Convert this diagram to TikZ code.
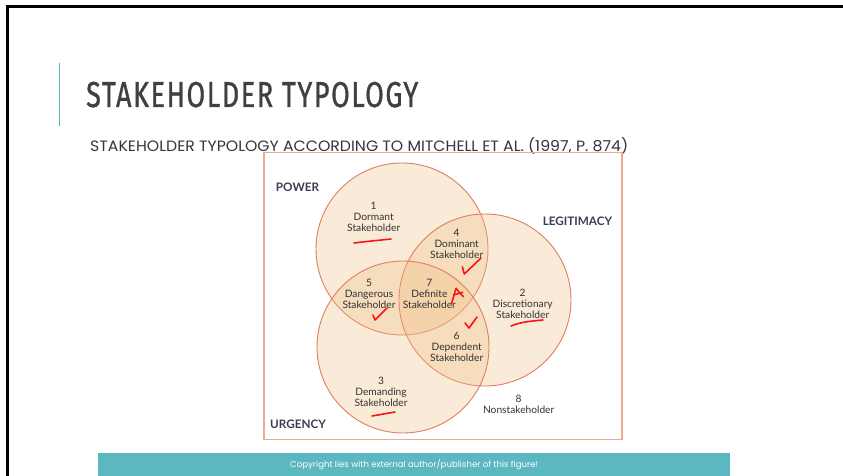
\documentclass[tikz,border=0pt]{standalone}
\usepackage{fontspec}
\usepackage{graphicx}
\setmainfont{Lato}
\newfontfamily\titlefont[LetterSpace=6, FakeBold=1.2]{Fira Sans}
\newfontfamily\subfont{Poppins}
\newfontfamily\labelfont{Lato}

\definecolor{slideteal}{RGB}{91,183,192}
\definecolor{titlegray}{RGB}{64,64,64}
\definecolor{subgray}{RGB}{52,52,66}
\definecolor{headnavy}{RGB}{60,60,88}
\definecolor{labelgray}{RGB}{50,50,50}
\definecolor{vennfill}{RGB}{240,190,130}
\definecolor{vennline}{RGB}{226,124,100}
\definecolor{boxline}{RGB}{240,170,148}
\definecolor{penred}{RGB}{250,20,20}

\tikzset{
  venn/.style={circle, minimum size=172pt, inner sep=0pt,
    fill=vennfill, fill opacity=0.3, draw=vennline, draw opacity=1, line width=0.9pt},
  typelabel/.style={align=center, inner sep=0pt, text=labelgray,
    font=\labelfont\fontsize{10.2}{11.3}\selectfont},
  setname/.style={inner sep=0pt, text=headnavy,
    font=\labelfont\bfseries\fontsize{11.7}{12}\selectfont},
  pen/.style={draw=penred, line width=1.6pt, line cap=round, line join=round},
}

\begin{document}
\begin{tikzpicture}[x=1pt,y=-1pt]
\useasboundingbox (0,0) rectangle (843,476);
\fill[white] (0,0) rectangle (843,476);

% slide frame (top and left edges)
\draw[black, line width=3pt] (7.5,476) -- (7.5,7) -- (843,7);

% accent bar beside the title
\draw[slideteal, line width=1.5pt] (59.5,63) -- (59.5,126);

% title and subtitle
\node[anchor=base west, inner sep=0pt, text=titlegray] (title) at (86,107)
  {\resizebox{332pt}{\height}{\titlefont\fontsize{36}{36}\selectfont STAKEHOLDER TYPOLOGY}};
\node[anchor=base west, inner sep=0pt, text=subgray] (subtitle) at (90,152)
  {\resizebox{538pt}{\height}{\subfont\fontsize{15}{15}\selectfont STAKEHOLDER TYPOLOGY ACCORDING TO MITCHELL ET AL. (1997, P. 874)}};

% figure frame
\node[draw=boxline, line width=1.4pt, inner sep=0pt, minimum width=358pt,
      minimum height=287pt] (figbox) at (443,296) {};

% the three attribute circles
\node[venn] (power) at (402,249) {};
\node[venn] (legit) at (485,300) {};
\node[venn] (urgent) at (403,347) {};

% attribute names
\node[setname] (powername) at (297.5,187) {POWER};
\node[setname] (legitname) at (577.5,221) {LEGITIMACY};
\node[setname] (urgentname) at (298,424) {URGENCY};

% stakeholder classes
\node[typelabel] (t1) at (373.7,217) {1\\Dormant\\Stakeholder};
\node[typelabel] (t4) at (456.7,244) {4\\Dominant\\Stakeholder};
\node[typelabel] (t5) at (369,294) {5\\Dangerous\\Stakeholder};
\node[typelabel] (t7) at (429.4,294) {7\\Definite\\Stakeholder};
\node[typelabel] (t2) at (522.7,304) {2\\Discretionary\\Stakeholder};
\node[typelabel] (t6) at (456.7,347) {6\\Dependent\\Stakeholder};
\node[typelabel] (t3) at (381,392) {3\\Demanding\\Stakeholder};
\node[typelabel] (t8) at (518.7,404) {8\\Nonstakeholder};

% hand-drawn marks
\draw[pen] (354,243) .. controls (370,241) and (382,240) .. (391,239);
\draw[pen] (511,326) .. controls (520,322) and (532,321) .. (543,320);
\draw[pen] (372,416) -- (395,412);
\draw[pen] (462.3,266.7) -- (464.3,274) -- (480.7,258.3);
\draw[pen] (373,315) -- (375,320) -- (387,308);
\draw[pen] (465,323) -- (469,328) -- (477,317);
\draw[pen] (451.7,303.3) -- (456,288.3) -- (463.3,296.7);
\draw[pen] (453.3,295) -- (462.7,292.3);

% footer bar
\node[fill=slideteal, inner sep=0pt, minimum width=632pt, minimum height=23pt,
      anchor=north west] (footer) at (98,453) {};
\node[inner sep=0pt, text=white] (footnote) at (footer.center)
  {\resizebox{248pt}{\height}{\subfont\fontsize{8.5}{9}\selectfont Copyright lies with external author/publisher of this figure!}};
\end{tikzpicture}
\end{document}
